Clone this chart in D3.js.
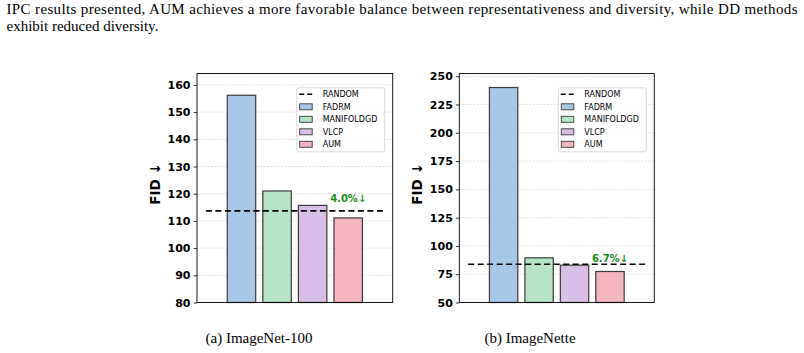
<!DOCTYPE html>
<html>
<head>
<meta charset="utf-8">
<script src="https://cdn.jsdelivr.net/npm/d3@7"></script>
<style>
  body { margin: 0; background: #fff; }
  svg { display: block; }
</style>
</head>
<body>
<div class="container"></div>
<script>
var svgWidth = 804;
var svgHeight = 353;

// data
var methods = ["FADRM", "MANIFOLDGD", "VLCP", "AUM"];
var colors = ["#a7c7e7", "#b5e4c7", "#d8bde7", "#f4b5c1"];
var imagenet100 = [156.2, 121.0, 115.7, 111.1];
var imagenette = [240.0, 89.5, 83.0, 77.4];
var randomFid = [113.7, 83.8];
var gainLabels = ["4.0%\u2193", "6.7%\u2193"];
var ticks100 = [80, 90, 100, 110, 120, 130, 140, 150, 160];
var ticksNette = [50, 75, 100, 125, 150, 175, 200, 225, 250];
var captions = ["(a) ImageNet-100", "(b) ImageNette"];

var svg = d3.select(".container")
    .append("svg")
    .attr("width", svgWidth)
    .attr("height", svgHeight);

// paper text above the figure
var serif = "'Liberation Serif', 'Times New Roman', serif";
svg.append("text")
    .attr("x", 6.5)
    .attr("y", 14)
    .attr("textLength", 791)
    .attr("lengthAdjust", "spacing")
    .style("font-family", serif)
    .style("font-size", "15px")
    .text("IPC results presented, AUM achieves a more favorable balance between representativeness and diversity, while DD methods");
svg.append("text")
    .attr("x", 6.5)
    .attr("y", 31)
    .style("font-family", serif)
    .style("font-size", "15px")
    .text("exhibit reduced diversity.");

var panels = [
    {left: 197, right: 392.7, values: imagenet100, random: randomFid[0], domain: [80, 164.2], ticks: ticks100, gain: gainLabels[0], caption: captions[0], capX: 259},
    {left: 459.3, right: 654.3, values: imagenette, random: randomFid[1], domain: [50, 252.4], ticks: ticksNette, gain: gainLabels[1], caption: captions[1], capX: 530}
];

var plotTop = 73.5, plotBottom = 302.5;
var sans = "'DejaVu Sans', sans-serif";

panels.forEach(function(p) {
    var g = svg.append("g");

    var x = d3.scaleBand()
        .domain(methods)
        .range([p.left, p.right])
        .paddingInner(0.2)
        .paddingOuter(0.85);

    var y = d3.scaleLinear()
        .domain(p.domain)
        .range([plotBottom, plotTop]);

    // grid
    g.append("g")
        .selectAll("line")
        .data(p.ticks)
        .enter()
        .append("line")
        .attr("x1", p.left)
        .attr("x2", p.right)
        .attr("y1", d => y(d))
        .attr("y2", d => y(d))
        .attr("stroke", "#d4d4d4")
        .attr("stroke-width", 0.7)
        .attr("stroke-dasharray", "2,1.5");

    // bars
    g.selectAll(".bar")
        .data(p.values)
        .enter()
        .append("rect")
        .attr("class", "bar")
        .attr("x", (d, i) => x(methods[i]))
        .attr("y", d => y(d))
        .attr("width", x.bandwidth())
        .attr("height", d => plotBottom - y(d))
        .attr("fill", (d, i) => colors[i])
        .attr("stroke", "#3a3a3a")
        .attr("stroke-width", 1.2);

    // random baseline, from index -1 to index 4
    var step = x.step();
    var xFirst = x(methods[0]) + x.bandwidth() / 2 - step;
    var xLast = x(methods[methods.length - 1]) + x.bandwidth() / 2 + step;
    g.append("line")
        .attr("x1", xFirst)
        .attr("x2", xLast)
        .attr("y1", y(p.random))
        .attr("y2", y(p.random))
        .attr("stroke", "#000")
        .attr("stroke-width", 1.6)
        .attr("stroke-dasharray", "6,3.5");

    // gain label over AUM
    g.append("text")
        .attr("x", x("AUM") + x.bandwidth() / 2)
        .attr("y", y(p.values[2]) - 3)
        .attr("text-anchor", "middle")
        .style("font-family", sans)
        .style("font-weight", "bold")
        .style("font-size", "10px")
        .attr("fill", "#1b8c1b")
        .text(p.gain);

    // y axis
    var axis = g.append("g")
        .attr("transform", `translate(${p.left},0)`)
        .call(d3.axisLeft(y).tickValues(p.ticks).tickSize(3.5).tickPadding(3));
    axis.select(".domain").remove();
    axis.selectAll("text")
        .style("font-family", sans)
        .style("font-weight", "bold")
        .style("font-size", "11px")
        .attr("fill", "#000");
    axis.selectAll("line").attr("stroke", "#000").attr("stroke-width", 0.8);

    // frame
    g.append("rect")
        .attr("x", p.left)
        .attr("y", plotTop)
        .attr("width", p.right - p.left)
        .attr("height", plotBottom - plotTop)
        .attr("fill", "none")
        .attr("stroke", "#000")
        .attr("stroke-width", 0.9);

    // y label
    g.append("text")
        .attr("transform", `translate(${p.left - 37},${(plotTop + plotBottom) / 2 - 4}) rotate(-90)`)
        .attr("text-anchor", "middle")
        .style("font-family", sans)
        .style("font-weight", "bold")
        .style("font-size", "13.5px")
        .text("FID \u2193");

    // legend
    var lx = p.right - 96, ly = plotTop + 14.3;
    var leg = g.append("g").attr("transform", `translate(${lx},${ly})`);
    leg.append("rect")
        .attr("width", 88)
        .attr("height", 64)
        .attr("rx", 2)
        .attr("fill", "#fff")
        .attr("fill-opacity", 0.85)
        .attr("stroke", "#d0d0d0")
        .attr("stroke-width", 0.8);
    var labels = ["RANDOM"].concat(methods);
    labels.forEach(function(name, i) {
        var cy = 6.5 + i * 12.5;
        if (i === 0) {
            leg.append("line")
                .attr("x1", 2.5).attr("x2", 16.5)
                .attr("y1", cy).attr("y2", cy)
                .attr("stroke", "#000")
                .attr("stroke-width", 1.6)
                .attr("stroke-dasharray", "5,3");
        } else {
            leg.append("rect")
                .attr("x", 3).attr("y", cy - 3)
                .attr("width", 12.5).attr("height", 6)
                .attr("fill", colors[i - 1])
                .attr("stroke", "#3a3a3a")
                .attr("stroke-width", 0.9);
        }
        leg.append("text")
            .attr("x", 26)
            .attr("y", cy)
            .attr("dy", "0.35em")
            .style("font-family", sans)
            .style("font-size", "8px")
            .text(name);
    });

    // sub caption
    svg.append("text")
        .attr("x", p.capX)
        .attr("y", 343)
        .attr("text-anchor", "middle")
        .style("font-family", serif)
        .style("font-size", "15px")
        .text(p.caption);
});
</script>
</body>
</html>
